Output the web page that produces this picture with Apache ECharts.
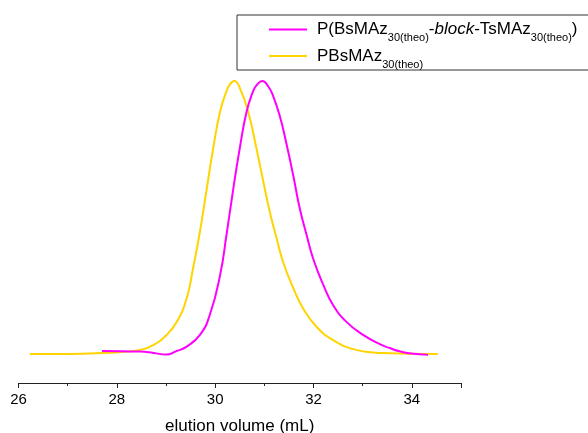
<!DOCTYPE html>
<html>
<head>
<meta charset="utf-8">
<script src="https://cdn.jsdelivr.net/npm/echarts@6/dist/echarts.min.js"></script>
<style>
  html, body { margin: 0; padding: 0; background: #fff; }
  #chart { width: 588px; height: 433px; }
</style>
</head>
<body>
<div id="chart"></div>
<script>
// Normalised SEC traces (detector response vs. elution volume in mL)
const blockVolume = [27.70, 28.10, 28.47, 28.75, 29.01, 29.20, 29.42, 29.69, 29.89, 30.10, 30.23, 30.37, 30.50, 30.64, 30.77, 30.84, 30.96, 31.08, 31.18, 31.32, 31.45, 31.59, 31.72, 31.86, 31.99, 32.20, 32.40, 32.67, 33.01, 33.35, 33.55, 33.75, 33.95, 34.15, 34.33];
const blockSignal = [0.011, 0.010, 0.009, 0.004, -0.002, 0.010, 0.027, 0.070, 0.143, 0.289, 0.436, 0.607, 0.753, 0.888, 0.962, 0.984, 1.000, 0.980, 0.945, 0.868, 0.770, 0.652, 0.534, 0.436, 0.351, 0.253, 0.179, 0.118, 0.070, 0.036, 0.022, 0.010, 0.003, -0.001, -0.003];

const homoVolume = [26.23, 26.80, 27.30, 27.90, 28.20, 28.47, 28.74, 29.01, 29.22, 29.42, 29.55, 29.69, 29.83, 29.96, 30.10, 30.23, 30.30, 30.39, 30.50, 30.67, 30.84, 30.98, 31.11, 31.25, 31.38, 31.59, 31.79, 32.06, 32.40, 32.81, 33.21, 33.55, 34.00, 34.53];
const homoSignal = [0.000, 0.000, 0.001, 0.005, 0.009, 0.015, 0.033, 0.070, 0.118, 0.204, 0.314, 0.448, 0.607, 0.753, 0.888, 0.962, 0.988, 1.000, 0.975, 0.888, 0.753, 0.631, 0.521, 0.424, 0.338, 0.241, 0.167, 0.100, 0.051, 0.018, 0.006, 0.003, 0.001, 0.000];

const blockName = 'P(BsMAz30(theo)-block-TsMAz30(theo))';
const homoName = 'PBsMAz30(theo)';

const pairs = (xs, ys) => xs.map((x, i) => [x, ys[i]]);

const FONT = "'Liberation Sans', Arial, Helvetica, sans-serif";

const legendLabels = {};
legendLabels[blockName] = '{n|P(BsMAz}{s|30(theo)}{n|-}{i|block}{n|-TsMAz}{s|30(theo)}{n|)}';
legendLabels[homoName] = '{n|PBsMAz}{s|30(theo)}';

const chart = echarts.init(document.getElementById('chart'), null, { renderer: 'canvas' });

chart.setOption({
  backgroundColor: '#ffffff',
  animation: false,
  grid: { left: 18.5, right: 127, top: 81, bottom: 50, outerBoundsMode: 'none', containLabel: false },
  xAxis: {
    type: 'value',
    min: 26,
    max: 35,
    interval: 2,
    name: 'elution volume (mL)',
    nameLocation: 'middle',
    nameGap: 35,
    nameTextStyle: { color: '#000', fontSize: 17, fontFamily: FONT },
    axisLine: { show: true, onZero: false, lineStyle: { color: '#222', width: 1 } },
    axisTick: { show: true, inside: false, length: 5, lineStyle: { color: '#222', width: 1 } },
    minorTick: { show: true, splitNumber: 2, length: 3, lineStyle: { color: '#222', width: 1 } },
    axisLabel: { color: '#000', fontSize: 15, fontFamily: FONT, margin: 9, showMaxLabel: false },
    splitLine: { show: false }
  },
  yAxis: {
    type: 'value',
    min: -0.106,
    max: 1,
    show: false
  },
  legend: {
    orient: 'vertical',
    left: 237,
    top: 15,
    data: [blockName, homoName],
    icon: 'rect',
    itemWidth: 38,
    itemHeight: 2,
    itemGap: 4,
    padding: [6, 15, 0, 32],
    borderColor: '#333',
    borderWidth: 1,
    borderRadius: 0,
    formatter: name => legendLabels[name],
    textStyle: {
      color: '#000',
      fontFamily: FONT,
      padding: [0, 0, 0, 5],
      rich: {
        n: { fontSize: 17, fontFamily: FONT, color: '#000', lineHeight: 20 },
        i: { fontSize: 17, fontFamily: FONT, color: '#000', fontStyle: 'italic', lineHeight: 20 },
        s: { fontSize: 11, fontFamily: FONT, color: '#000', lineHeight: 11, verticalAlign: 'bottom', padding: [0, 0, -4, 0] }
      }
    }
  },
  series: [
    {
      name: homoName,
      type: 'line',
      data: pairs(homoVolume, homoSignal),
      smooth: 0.5,
      symbol: 'none',
      color: '#FFD400',
      lineStyle: { color: '#FFD400', width: 2 }
    },
    {
      name: blockName,
      type: 'line',
      data: pairs(blockVolume, blockSignal),
      smooth: 0.5,
      symbol: 'none',
      color: '#FF00FF',
      lineStyle: { color: '#FF00FF', width: 2 }
    }
  ]
});
</script>
</body>
</html>
